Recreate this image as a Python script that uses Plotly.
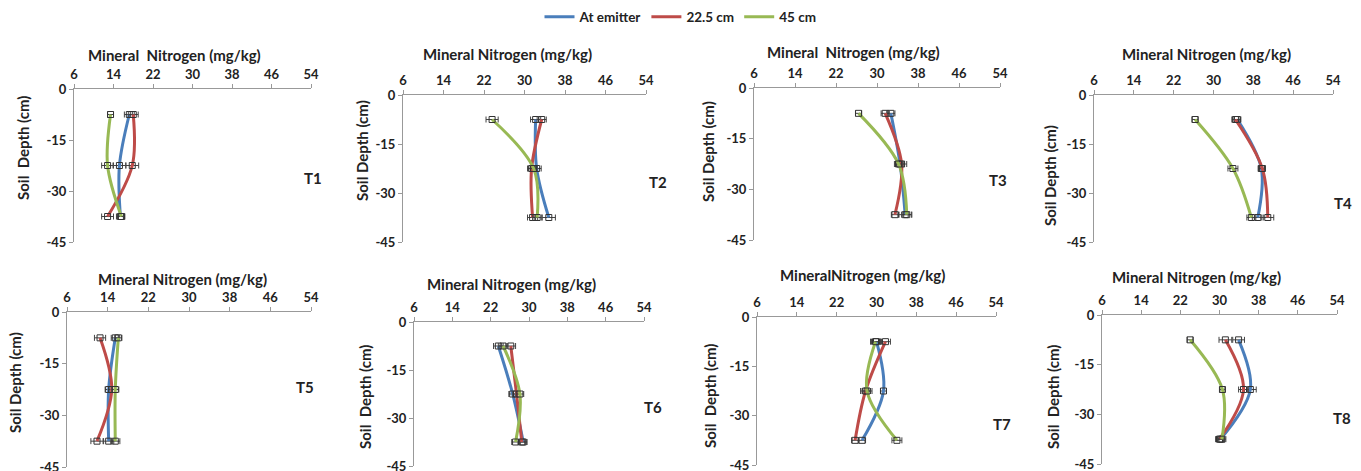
import plotly.graph_objects as go

depths = [-7.5, -22.5, -37.5]
series_names = ["At emitter", "22.5 cm", "45 cm"]
colors = ["#4A7EBB", "#BE4B48", "#98B954"]
panel_labels = ["T1", "T2", "T3", "T4", "T5", "T6", "T7", "T8"]
x_ticks = [6, 14, 22, 30, 38, 46, 54]
y_ticks = [0, -15, -30, -45]
y_ticktext = ["0", "-15", "-30", "-45"]

# Mineral nitrogen (mg/kg) per treatment: [At emitter, 22.5 cm, 45 cm]
T1 = [[17.2, 15.2, 15.4], [18.0, 17.8, 12.8], [13.4, 12.8, 15.6]]
T2 = [[32.2, 32.4, 34.8], [33.4, 31.4, 31.6], [23.6, 31.8, 32.5]]
T3 = [[32.7, 34.5, 35.5], [31.6, 34.8, 33.5], [26.4, 34.2, 35.8]]
T4 = [[34.8, 39.6, 38.9], [34.4, 39.8, 40.9], [26.3, 33.9, 37.6]]
T5 = [[15.5, 14.2, 14.2], [12.5, 14.8, 11.9], [16.1, 15.5, 15.5]]
T6 = [[23.6, 26.6, 28.8], [26.2, 27.4, 28.5], [24.6, 28.1, 27.2]]
T7 = [[30.0, 31.4, 27.1], [31.8, 27.8, 25.7], [29.8, 28.1, 34.1]]
T8 = [[33.9, 36.3, 30.2], [31.2, 34.9, 30.0], [24.0, 30.6, 30.5]]
errors = [
    [[1.0, 1.3, 0.8], [1.0, 1.3, 1.2], [0.6, 1.2, 0.7]],
    [[1.0, 0.9, 1.3], [0.9, 0.8, 1.0], [1.2, 0.7, 0.9]],
    [[0.8, 0.8, 1.2], [0.8, 1.0, 0.7], [0.6, 0.8, 1.0]],
    [[0.7, 0.6, 1.1], [0.7, 0.6, 1.2], [0.6, 1.0, 0.9]],
    [[0.8, 0.7, 1.0], [1.1, 0.6, 1.2], [0.7, 0.7, 0.9]],
    [[1.0, 0.8, 0.8], [1.0, 0.8, 0.8], [1.0, 0.8, 0.8]],
    [[1.0, 0.6, 0.7], [1.0, 1.0, 0.7], [1.0, 1.0, 1.0]],
    [[1.2, 1.2, 0.8], [1.3, 1.0, 0.8], [0.6, 0.5, 0.8]],
]
all_data = [T1, T2, T3, T4, T5, T6, T7, T8]
x_titles = ["Mineral  Nitrogen (mg/kg)", "Mineral Nitrogen (mg/kg)", "Mineral  Nitrogen (mg/kg)",
            "Mineral Nitrogen (mg/kg)", "Mineral Nitrogen (mg/kg)", "Mineral Nitrogen (mg/kg)",
            "MineralNitrogen (mg/kg)", "Mineral Nitrogen (mg/kg)"]
y_titles = ["Soil  Depth (cm)", "Soil Depth (cm)", "Soil Depth (cm)", "Soil Depth (cm)",
            "Soil Depth (cm)", "Soil  Depth (cm)", "Soil  Depth (cm)", "Soil  Depth (cm)"]

W, H = 1361, 471
boxes = [
    (74, 311, 89, 242), (403, 646, 95, 242), (754, 1000, 88, 240), (1094, 1333, 95, 242),
    (67, 311, 312, 467), (414, 644, 322, 466), (757, 996, 317, 465), (1102, 1337, 315, 464),
]
title_pos = [(174, 55), (507, 54), (853, 52), (1206, 54), (182, 279), (512, 284), (862, 275), (1196, 277)]
ytitle_pos = [(23, 148), (362, 151), (708, 152), (1050, 176), (15, 383), (365, 397), (710, 396), (1053, 397)]
label_pos = [(313, 178), (658, 182), (998, 180), (1343, 203), (305, 387), (653, 407), (1002, 424), (1342, 418)]

FONT = "Lato"
TXT = "#222222"
fig = go.Figure()
annotations = []

# legend-only entries (lines, no markers)
for s in range(3):
    fig.add_trace(go.Scatter(x=[None], y=[None], mode="lines", name=series_names[s],
                             line=dict(color=colors[s], width=3), showlegend=True,
                             hoverinfo="skip"))

for i, data in enumerate(all_data):
    n = i + 1
    xa = "x" if n == 1 else f"x{n}"
    ya = "y" if n == 1 else f"y{n}"
    for s in range(3):
        fig.add_trace(go.Scatter(
            x=data[s], y=depths, xaxis=xa, yaxis=ya,
            mode="lines+markers", name=series_names[s], showlegend=False,
            line=dict(color=colors[s], width=3, shape="spline", smoothing=1.0),
            marker=dict(symbol="square-open", size=6, color="#333333", line=dict(width=1)),
            error_x=dict(type="data", array=errors[i][s], color="#444444", thickness=1, width=3),
        ))
    x0, x1, y0, y1 = boxes[i]
    fig.layout[("xaxis" if n == 1 else f"xaxis{n}")] = dict(
        domain=[x0 / W, x1 / W], anchor=ya, side="top", range=[6, 54], automargin=False,
        tickvals=x_ticks, showline=True, linecolor="#999999", linewidth=1,
        ticks="outside", ticklen=4, tickcolor="#999999", showgrid=False, zeroline=False,
        ticklabeloverflow="allow",
        tickfont=dict(family=FONT, size=13, color=TXT, weight="bold"), fixedrange=True)
    fig.layout[("yaxis" if n == 1 else f"yaxis{n}")] = dict(
        domain=[1 - y1 / H, 1 - y0 / H], anchor=xa, range=[-45, 0], automargin=False,
        tickvals=y_ticks, ticktext=y_ticktext, showline=True, linecolor="#999999", linewidth=1,
        ticks="outside", ticklen=4, tickcolor="#999999", showgrid=False, zeroline=False,
        ticklabeloverflow="allow",
        tickfont=dict(family=FONT, size=13, color=TXT, weight="bold"), fixedrange=True)
    tx, ty = title_pos[i]
    annotations.append(dict(x=tx / W, y=1 - ty / H, xref="paper", yref="paper", text=x_titles[i],
                            showarrow=False, xanchor="center", yanchor="middle",
                            font=dict(family=FONT, size=15, color=TXT, weight="bold")))
    yx, yy = ytitle_pos[i]
    annotations.append(dict(x=yx / W, y=1 - yy / H, xref="paper", yref="paper", text=y_titles[i],
                            showarrow=False, xanchor="center", yanchor="middle", textangle=-90,
                            font=dict(family=FONT, size=15, color=TXT, weight="bold")))
    lx, ly = label_pos[i]
    annotations.append(dict(x=lx / W, y=1 - ly / H, xref="paper", yref="paper", text=panel_labels[i],
                            showarrow=False, xanchor="center", yanchor="middle",
                            font=dict(family=FONT, size=15, color=TXT, weight="bold")))

fig.update_layout(
    width=W, height=H, margin=dict(l=0, r=0, t=0, b=0, autoexpand=False),
    paper_bgcolor="white", plot_bgcolor="white",
    annotations=annotations,
    legend=dict(orientation="h", x=0.5, xanchor="center", y=1 - 17 / H, yanchor="middle",
                font=dict(family=FONT, size=13.5, color=TXT, weight="bold"),
                itemwidth=30, tracegroupgap=0, bgcolor="rgba(0,0,0,0)"),
)
fig.write_html("out.html", config={"displayModeBar": False},
               post_script="document.body.style.margin='0px';document.body.style.overflow='hidden';")
